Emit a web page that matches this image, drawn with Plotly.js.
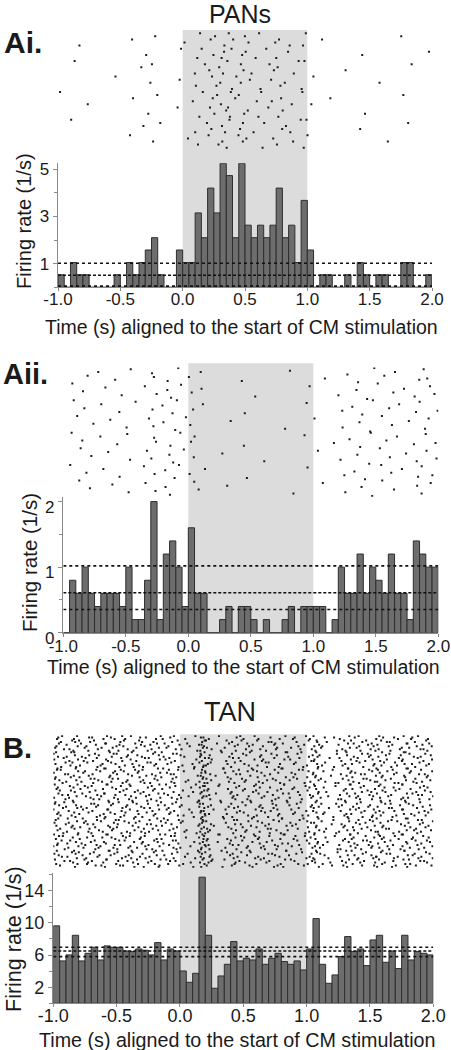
<!DOCTYPE html>
<html>
<head>
<meta charset="utf-8">
<script src="https://cdn.plot.ly/plotly-3.0.1.min.js"></script>
<style>
html,body{margin:0;padding:0;background:#fff;}
#chart{width:451px;height:1050px;}
</style>
</head>
<body>
<div id="chart"></div>
<script>
// ---------------- DATA ----------------
const binStart = -1.0;           // s, left edge of first PSTH bin
const binWidth = 0.05;           // s
const stimWindow = [0.0, 1.0];   // CM stimulation period (s)

const xTickVals = [-1.0, -0.5, 0.0, 0.5, 1.0, 1.5, 2.0];
const xTickText = ['-1.0', '-0.5', '0.0', '0.5', '1.0', '1.5', '2.0'];

// Panel Ai (PANs) firing rate per 50-ms bin (1/s)
const aiRate = [0.53,0,1.05,0.53,0.53,0,0,0,0,0.53,
                0,1.05,0.53,1.05,1.58,2.10,0.53,0,0,1.58,
                1.05,1.05,3.15,2.10,4.20,3.15,5.25,4.73,2.10,5.25,
                2.63,2.10,2.63,2.10,2.63,4.20,2.10,2.63,1.05,3.68,
                1.58,0,0.53,0.53,0,0,0.53,0,1.05,0.53,
                0,0.53,0.53,0,0,1.05,1.05,0,0,0.53];
const aiLevels = [1.02, 0.51, 0.05];       // upper CL, mean, lower CL
const aiTrials = 38;
const aiYTicks = [1, 3, 5];

// Panel Aii (PANs)
const aiiRate = [0,0.8,0.6,1.0,0.6,0.4,0.6,0.6,0.6,0.4,
                 1.0,0.2,0.2,0.8,2.0,0.2,1.2,1.4,1.0,0.4,
                 1.6,0.6,0.6,0,0,0.2,0.4,0,0.4,0.4,
                 0.2,0,0.2,0,0,0.2,0.4,0,0.4,0.4,
                 0.4,0.4,0,0.2,1.0,0.6,0.6,1.2,0.6,1.0,
                 0.8,0.6,1.2,0.6,0.6,0.2,1.4,1.2,1.0,1.0];
const aiiLevels = [1.02, 0.61, 0.355];
const aiiTrials = 100;
const aiiYTicks = [0, 1, 2];

// Panel B (TAN)
const bRate = [9.63,5.27,6.02,8.46,5.27,6.22,6.97,5.39,7.14,6.97,
               6.97,6.51,6.43,6.76,6.60,6.02,7.55,5.39,6.76,6.51,
               4.02,2.61,3.73,15.68,8.46,1.87,3.40,4.85,7.68,5.27,
               5.60,5.39,6.76,4.85,5.60,6.22,5.19,4.85,5.27,4.15,
               6.76,10.54,4.85,2.49,3.53,5.81,8.30,6.43,6.76,4.69,
               7.88,8.46,5.10,6.51,4.32,8.46,5.39,6.43,6.22,6.02];
const bLevels = [6.97, 6.51, 5.81];
const bTrials = 90;
const bYTicks = [2, 6, 10, 14];

// ---------------- LAYOUT GEOMETRY (pixels) ----------------
const W = 451, H = 1050;
const fx = px => px / W;
const fy = py => 1 - py / H;

const panels = [
  {rate: aiRate, levels: aiLevels, trials: aiTrials, yticks: aiYTicks, minor: 1,
   x0: 58, x1: 432, histTop: 163.3, histBot: 287.3, yMax: 5.25,
   rasTop: 31.7, rasBot: 149.2, shadeTop: 30, tickSize: 17, xtickSize: 17, standoff: -7, yshift: 0},
  {rate: aiiRate, levels: aiiLevels, trials: aiiTrials, yticks: aiiYTicks, minor: 0.5,
   x0: 63.3, x1: 438.3, histTop: 497, histBot: 632.7, yMax: 2.07,
   rasTop: 367.4, rasBot: 496.7, shadeTop: 363.3, tickSize: 17, xtickSize: 17, standoff: -5, yshift: 5},
  {rate: bRate, levels: bLevels, trials: bTrials, yticks: bYTicks, minor: 2,
   x0: 53.3, x1: 433.3, histTop: 872.7, histBot: 1003.3, yMax: 16.24,
   rasTop: 735.3, rasBot: 867.7, shadeTop: 734.3, tickSize: 18, xtickSize: 18, standoff: -7, yshift: 0}
];
const levelDash = ['dot', '3px,2px', 'dot'];

const FONT = 'Liberation Sans, Arial, Helvetica, sans-serif';
const AX = '#8a8a8a';

// bin centres of the PSTH
function binCenters(n) { const c = []; for (let i = 0; i < n; i++) c.push(binStart + binWidth * (i + 0.5)); return c; }

// radical inverse (Halton low-discrepancy layout, deterministic)
function radInv(n, b) { let f = 1, r = 0; while (n > 0) { f /= b; r += f * (n % b); n = Math.floor(n / b); } return r; }

// Raster: spike counts per bin follow the PSTH (count = rate * trials * binWidth);
// spike positions inside a bin are spread evenly over trials (Halton layout), not random.
function rasterFromRate(rates, trials) {
  const xs = [], ys = []; let g = 0;
  rates.forEach((r, i) => {
    const n = Math.round(r * trials * binWidth);
    for (let k = 0; k < n; k++) {
      g++;
      xs.push(binStart + binWidth * (i + radInv(g, 3)));
      ys.push(Math.floor(radInv(g, 2) * trials));
    }
  });
  return {xs, ys};
}

const traces = [];
const layout = {
  width: W, height: H,
  margin: {l: 0, r: 0, t: 0, b: 0},
  paper_bgcolor: '#ffffff',
  plot_bgcolor: 'rgba(0,0,0,0)',
  showlegend: false,
  font: {family: FONT, color: '#1a1a1a'},
  bargap: 0,
  shapes: [],
  annotations: []
};

panels.forEach((p, idx) => {
  const hx = 2 * idx + 1, rx = 2 * idx + 2;
  const hxName = hx === 1 ? 'x' : 'x' + hx, hyName = hx === 1 ? 'y' : 'y' + hx;
  const rxName = 'x' + rx, ryName = 'y' + rx;
  const hxKey = hx === 1 ? 'xaxis' : 'xaxis' + hx, hyKey = hx === 1 ? 'yaxis' : 'yaxis' + hx;

  traces.push({
    type: 'bar', x: binCenters(p.rate.length), y: p.rate, width: binWidth,
    xaxis: hxName, yaxis: hyName,
    marker: {color: '#6d6d6d', line: {color: '#2e2e2e', width: 1}}
  });
  p.levels.forEach((lv, j) => {
    traces.push({
      type: 'scatter', mode: 'lines', x: [binStart, binStart + binWidth * p.rate.length], y: [lv, lv],
      xaxis: hxName, yaxis: hyName,
      line: {color: '#111', width: 1.6, dash: levelDash[j]}
    });
  });
  const ras = rasterFromRate(p.rate, p.trials);
  traces.push({
    type: 'scatter', mode: 'markers', x: ras.xs, y: ras.ys,
    xaxis: rxName, yaxis: ryName,
    marker: {symbol: 'square', size: 2, color: '#1c1c1c', line: {width: 0}}
  });

  layout[hxKey] = {
    domain: [fx(p.x0), fx(p.x1)], range: [binStart, binStart + binWidth * 60], anchor: hyName,
    showline: true, linecolor: AX, linewidth: 1, ticks: 'outside', ticklen: 3, tickcolor: AX,
    tickvals: xTickVals, ticktext: xTickText, showgrid: false, zeroline: false,
    ticklabelstandoff: p.standoff,
    tickfont: {size: p.xtickSize, family: FONT, color: '#1a1a1a'}
  };
  layout[hyKey] = {
    domain: [fy(p.histBot), fy(p.histTop)], range: [0, p.yMax], anchor: hxName,
    showline: true, linecolor: AX, linewidth: 1.5, ticks: 'outside', ticklen: 4, tickcolor: AX,
    tickvals: p.yticks, showgrid: false, zeroline: false, ticklabelshift: p.yshift,
    minor: {tickmode: 'linear', tick0: 0, dtick: p.minor, ticks: 'outside', ticklen: 3, tickcolor: AX, showgrid: false},
    tickfont: {size: p.tickSize, family: FONT, color: '#1a1a1a'}
  };
  layout['xaxis' + rx] = {domain: [fx(p.x0), fx(p.x1)], range: [binStart, binStart + binWidth * 60],
    anchor: ryName, visible: false};
  layout['yaxis' + rx] = {domain: [fy(p.rasBot), fy(p.rasTop)], range: [p.trials - 0.5, -0.5],
    anchor: rxName, visible: false};

  layout.shapes.push({
    type: 'rect', xref: hxName, yref: 'paper', layer: 'below',
    x0: stimWindow[0], x1: stimWindow[1], y0: fy(p.histBot), y1: fy(p.shadeTop),
    fillcolor: '#dcdcdc', line: {width: 0}
  });
});

// ---------------- TEXT ----------------
function ann(text, xpx, ypx, opts) {
  return Object.assign({text: text, xref: 'paper', yref: 'paper', x: fx(xpx), y: fy(ypx),
    showarrow: false, xanchor: 'center', yanchor: 'middle',
    font: {family: FONT, size: 20, color: '#1a1a1a'}}, opts || {});
}
const xTitle = 'Time (s) aligned to the start of CM stimulation';
const yTitle = 'Firing rate (1/s)';
layout.annotations.push(
  ann('PANs', 240, 14, {font: {family: FONT, size: 25, color: '#1a1a1a'}}),
  ann('<b>Ai.</b>', 2, 42, {xanchor: 'left', font: {family: FONT, size: 30, color: '#1a1a1a'}}),
  ann('<b>Aii.</b>', 1, 374, {xanchor: 'left', font: {family: FONT, size: 29, color: '#1a1a1a'}}),
  ann('TAN', 230, 712, {font: {family: FONT, size: 27, color: '#1a1a1a'}}),
  ann('<b>B.</b>', 1, 748, {xanchor: 'left', font: {family: FONT, size: 29, color: '#1a1a1a'}}),
  ann(yTitle, 24, 221, {textangle: -90, font: {family: FONT, size: 20, color: '#1a1a1a'}}),
  ann(yTitle, 29, 563, {textangle: -90, font: {family: FONT, size: 20.5, color: '#1a1a1a'}}),
  ann(yTitle, 14, 939, {textangle: -90, font: {family: FONT, size: 21.5, color: '#1a1a1a'}}),
  ann(xTitle, 241, 327, {font: {family: FONT, size: 19.5, color: '#1a1a1a'}}),
  ann(xTitle, 243, 667, {font: {family: FONT, size: 19.5, color: '#1a1a1a'}}),
  ann(xTitle, 237, 1040, {font: {family: FONT, size: 19.7, color: '#1a1a1a'}})
);

Plotly.newPlot('chart', traces, layout, {staticPlot: true, displayModeBar: false});
</script>
</body>
</html>
